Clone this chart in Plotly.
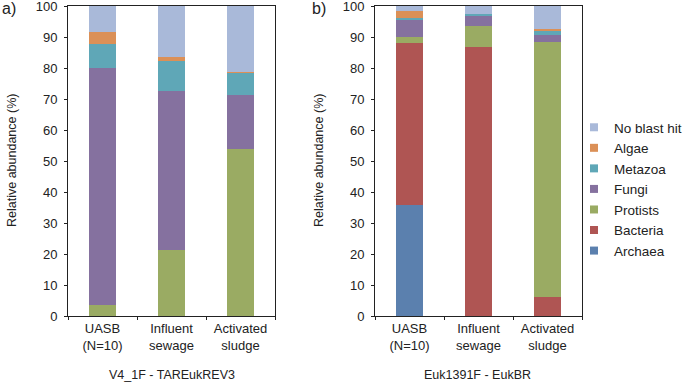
import plotly.graph_objects as go

categories = ["UASB<br>(N=10)", "Influent<br>sewage", "Activated<br>sludge"]
series_names = ["Archaea", "Bacteria", "Protists", "Fungi", "Metazoa", "Algae", "No blast hit"]
colors = ["#5B80AE", "#AF5553", "#9AAB63", "#85719F", "#5FA7B7", "#DB9057", "#A9B9D9"]

# Panel a) V4_1F - TAREukREV3
a_archaea = [0, 0, 0]
a_bacteria = [0, 0, 0]
a_protists = [3.5, 21.3, 53.8]
a_fungi = [76.5, 51.2, 17.4]
a_metazoa = [7.7, 9.7, 7.2]
a_algae = [3.8, 1.3, 0.3]
a_noblast = [8.5, 16.5, 21.3]

# Panel b) Euk1391F - EukBR
b_archaea = [35.7, 0, 0]
b_bacteria = [52.4, 86.8, 6.0]
b_protists = [1.8, 6.9, 82.3]
b_fungi = [5.5, 3.3, 2.3]
b_metazoa = [0.7, 0.3, 1.2]
b_algae = [2.2, 0.0, 0.9]
b_noblast = [1.7, 2.7, 7.3]

panel_a = [a_archaea, a_bacteria, a_protists, a_fungi, a_metazoa, a_algae, a_noblast]
panel_b = [b_archaea, b_bacteria, b_protists, b_fungi, b_metazoa, b_algae, b_noblast]

yticks = [0, 10, 20, 30, 40, 50, 60, 70, 80, 90, 100]

FONT = "Liberation Sans, Arial, sans-serif"
W, H = 685, 382

fig = go.Figure()
for name, col, va, vb in zip(series_names, colors, panel_a, panel_b):
    fig.add_trace(go.Bar(x=categories, y=va, name=name, marker_color=col,
                         marker_line_width=0, width=0.38, xaxis="x", yaxis="y",
                         showlegend=False))
    fig.add_trace(go.Bar(x=categories, y=vb, name=name, marker_color=col,
                         marker_line_width=0, width=0.38, xaxis="x2", yaxis="y2",
                         showlegend=False))
    # legend proxy
    fig.add_trace(go.Scatter(x=[None], y=[None], mode="markers", name=name,
                             marker=dict(symbol="square", size=8, color=col),
                             xaxis="x2", yaxis="y2", showlegend=True))

def px_x(p):
    return p / W

def px_y(p):
    return (H - p) / H

ydom = [px_y(316), px_y(6)]
axis_common = dict(showline=True, linecolor="#222", linewidth=1, mirror=True,
                   showgrid=False, zeroline=False, ticks="outside", ticklen=3,
                   automargin=False, ticklabeloverflow="allow",
                   tickcolor="#222", tickfont=dict(family=FONT, size=13, color="#222"))

def ann(text, x, y, size=12.5, angle=0, xanchor="center"):
    return dict(text=text, x=px_x(x), y=px_y(y), xref="paper", yref="paper",
                xanchor=xanchor, yanchor="middle", textangle=angle, showarrow=False,
                font=dict(family=FONT, size=size, color="#222"))

fig.update_layout(
    width=W, height=H,
    margin=dict(l=0, r=0, t=0, b=0, autoexpand=False),
    paper_bgcolor="white", plot_bgcolor="white",
    barmode="stack",
    font=dict(family=FONT, size=12, color="#222"),
    xaxis=dict(domain=[px_x(68), px_x(275)], anchor="y", type="category",
               range=[-0.5, 2.5], tickson="boundaries", **axis_common),
    yaxis=dict(domain=ydom, anchor="x", range=[0, 100], tickvals=yticks,
               ticklabelstandoff=4, **axis_common),
    xaxis2=dict(domain=[px_x(375), px_x(582)], anchor="y2", type="category",
                range=[-0.5, 2.5], tickson="boundaries", **axis_common),
    yaxis2=dict(domain=ydom, anchor="x2", range=[0, 100], tickvals=yticks,
                ticklabelstandoff=4, **axis_common),
    legend=dict(x=px_x(574), y=px_y(112), xanchor="left", yanchor="top",
                traceorder="reversed", font=dict(family=FONT, size=13.5, color="#222"),
                bgcolor="rgba(0,0,0,0)", itemwidth=30),
    annotations=[
        ann("a)", 0, 8, size=16, xanchor="left"),
        ann("b)", 310, 8, size=16, xanchor="left"),
        ann("Relative abundance (%)", 12, 161, angle=-90),
        ann("Relative abundance (%)", 319, 161, angle=-90),
        ann("V4_1F - TAREukREV3", 172, 375),
        ann("Euk1391F - EukBR", 478, 375),
    ],
)

fig.write_html("out.html", config={"displayModeBar": False},
               post_script="document.body.style.margin='0';")
